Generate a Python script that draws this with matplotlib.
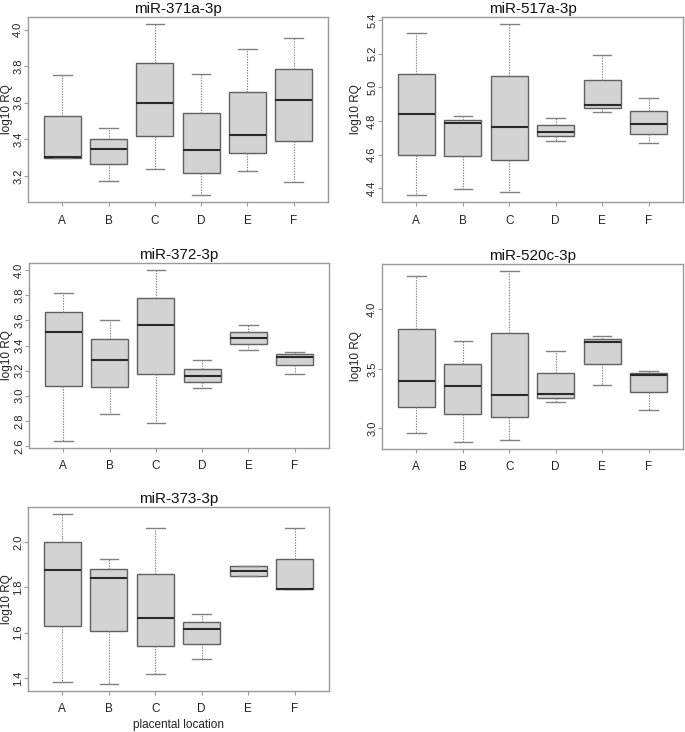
import matplotlib
matplotlib.use("Agg")
import matplotlib.pyplot as plt

plt.rcParams['font.family'] = ['Liberation Sans', 'DejaVu Sans']

categories = ["A", "B", "C", "D", "E", "F"]

titles = ["miR-371a-3p", "miR-517a-3p", "miR-372-3p", "miR-520c-3p", "miR-373-3p"]

# whisker low, Q1, median, Q3, whisker high for each location A-F
mir371_low = [3.298, 3.173, 3.238, 3.095, 3.227, 3.169]
mir371_q1 = [3.300, 3.264, 3.420, 3.218, 3.325, 3.393]
mir371_med = [3.305, 3.345, 3.600, 3.342, 3.424, 3.616]
mir371_q3 = [3.527, 3.403, 3.818, 3.545, 3.658, 3.784]
mir371_high = [3.751, 3.460, 4.031, 3.755, 3.895, 3.953]

mir517_low = [4.358, 4.396, 4.378, 4.682, 4.854, 4.666]
mir517_q1 = [4.598, 4.592, 4.569, 4.708, 4.876, 4.723]
mir517_med = [4.840, 4.785, 4.763, 4.735, 4.896, 4.781]
mir517_q3 = [5.079, 4.807, 5.067, 4.775, 5.045, 4.858]
mir517_high = [5.323, 4.827, 5.378, 4.819, 5.194, 4.936]

mir372_low = [2.642, 2.853, 2.784, 3.062, 3.368, 3.174]
mir372_q1 = [3.081, 3.070, 3.174, 3.108, 3.413, 3.246]
mir372_med = [3.511, 3.288, 3.562, 3.155, 3.456, 3.312]
mir372_q3 = [3.665, 3.448, 3.782, 3.216, 3.509, 3.333]
mir372_high = [3.817, 3.607, 4.003, 3.286, 3.562, 3.352]

mir520_low = [2.958, 2.885, 2.902, 3.218, 3.361, 3.157]
mir520_q1 = [3.176, 3.123, 3.092, 3.252, 3.538, 3.303]
mir520_med = [3.398, 3.356, 3.277, 3.291, 3.723, 3.445]
mir520_q3 = [3.838, 3.543, 3.798, 3.468, 3.748, 3.462]
mir520_high = [4.277, 3.731, 4.322, 3.647, 3.779, 3.485]

mir373_low = [1.381, 1.373, 1.419, 1.483, 1.852, 1.791]
mir373_q1 = [1.630, 1.606, 1.542, 1.549, 1.852, 1.791]
mir373_med = [1.878, 1.840, 1.663, 1.615, 1.874, 1.792]
mir373_q3 = [2.000, 1.881, 1.859, 1.649, 1.893, 1.925]
mir373_high = [2.124, 1.924, 2.060, 1.684, 1.893, 2.061]

yticks = [
    [3.2, 3.4, 3.6, 3.8, 4.0],
    [4.4, 4.6, 4.8, 5.0, 5.2, 5.4],
    [2.6, 2.8, 3.0, 3.2, 3.4, 3.6, 3.8, 4.0],
    [3.0, 3.5, 4.0],
    [1.4, 1.6, 1.8, 2.0],
]

series = [
    (mir371_low, mir371_q1, mir371_med, mir371_q3, mir371_high),
    (mir517_low, mir517_q1, mir517_med, mir517_q3, mir517_high),
    (mir372_low, mir372_q1, mir372_med, mir372_q3, mir372_high),
    (mir520_low, mir520_q1, mir520_med, mir520_q3, mir520_high),
    (mir373_low, mir373_q1, mir373_med, mir373_q3, mir373_high),
]

W, H = 685, 732
# pixel boxes: left, right, top, bottom
boxes_px = [
    (28, 328, 17, 202),
    (382, 683, 17, 202),
    (29, 329, 263, 447.5),
    (382, 683, 264, 449),
    (28, 329, 507, 691),
]
ylabel_x_px = [7, 356, 7, 356, 7]

fig = plt.figure(figsize=(W / 100, H / 100), dpi=100)
frame_col = "#9a9a9a"

for i, (ttl, s, yt, bp) in enumerate(zip(titles, series, yticks, boxes_px)):
    l, r, t, b = bp
    ax = fig.add_axes([l / W, 1 - b / H, (r - l) / W, (b - t) / H])
    lo, q1, med, q3, hi = s
    stats = []
    for k, c in enumerate(categories):
        stats.append(dict(label=c, whislo=lo[k], q1=q1[k], med=med[k], q3=q3[k], whishi=hi[k], fliers=[]))
    ax.bxp(stats, positions=range(1, 7), widths=0.8, capwidths=0.4,
           patch_artist=True, showfliers=False,
           boxprops=dict(facecolor="#d3d3d3", edgecolor="#606060", linewidth=1.0),
           medianprops=dict(color="#2a2a2a", linewidth=1.5, solid_capstyle="butt"),
           whiskerprops=dict(color="#808080", linewidth=0.8, linestyle=(0, (1.2, 1.2))),
           capprops=dict(color="#808080", linewidth=1.0))
    allv = lo + hi
    vmin, vmax = min(allv), max(allv)
    pad = 0.04 * (vmax - vmin)
    ax.set_ylim(vmin - pad, vmax + pad)
    ax.set_xlim(0.26, 6.74)
    ax.set_xticks(range(1, 7))
    ax.set_xticklabels(categories, fontsize=8.5)
    ax.set_yticks(yt)
    ax.set_yticklabels([f"{v:.1f}" for v in yt], fontsize=8, rotation=90, va="center")
    ax.tick_params(axis="both", colors=frame_col, labelcolor="#222222", length=3, width=0.8)
    ax.tick_params(axis="x", pad=6)
    ax.tick_params(axis="y", pad=0.5)
    for sp in ax.spines.values():
        sp.set_color(frame_col)
        sp.set_linewidth(1.0)
    ax.set_title(ttl, fontsize=11, pad=3, color="#111111")
    ax.set_ylabel("log10 RQ", fontsize=8.5, color="#222222", va="center")
    ax.yaxis.set_label_coords((ylabel_x_px[i] - l) / (r - l), 0.5)
    if i == 4:
        ax.set_xlabel("placental location", fontsize=8.5, color="#222222", va="center")
        ax.xaxis.set_label_coords(0.5, (b - 725) / (b - t))

fig.savefig("out.png", dpi=100)
